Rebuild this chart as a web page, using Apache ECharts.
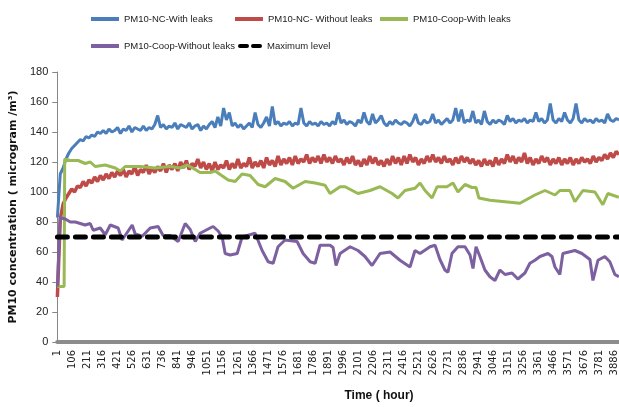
<!DOCTYPE html>
<html>
<head>
<meta charset="utf-8">
<script src="https://cdn.jsdelivr.net/npm/echarts@6/dist/echarts.min.js"></script>
<style>
  html, body { margin: 0; padding: 0; background: #fff; }
  #chart { width: 619px; height: 407px; }
</style>
</head>
<body>
<div id="chart"></div>
<script>
// noms des séries (legend)
var seriesNames = ['PM10-NC-With leaks', 'PM10-NC- Without leaks', 'PM10-Coop-With leaks', 'PM10-Coop-Without leaks', 'Maximum level'];
var colors = ['#4A7EBB', '#BE4B48', '#98B954', '#7D60A0', '#000000'];

// étiquettes de l'axe du temps (heures)
var timeTicks = [1, 106, 211, 316, 421, 526, 631, 736, 841, 946, 1051, 1156, 1261, 1366, 1471, 1576, 1681, 1786, 1891,
  1996, 2101, 2206, 2311, 2416, 2521, 2626, 2731, 2836, 2941, 3046, 3151, 3256, 3361, 3466, 3571, 3676, 3781, 3886];
var lastHour = 3920;
var maxLevel = 70;

// séries bruitées : une valeur toutes les 20 heures à partir de l'heure 1
var firstHour = 1;
var sampleStep = 20;
var ncWithLeaks = [
  83,112,116,122,126,129,131,133,135,134,
  137,136,138,137,140,139,141,139,142,140,
  141,143,139,142,141,144,140,143,142,141,
  144,141,143,142,145,151,143,145,142,144,
  143,146,142,145,144,143,146,142,144,145,
  141,144,142,145,147,143,150,144,156,148,
  153,144,146,143,145,142,144,146,143,153,
  145,143,146,150,144,157,145,147,144,146,
  145,147,144,146,145,156,146,144,147,145,
  146,144,147,145,146,144,147,145,153,146,
  148,145,147,146,144,148,146,153,147,145,
  152,146,148,151,146,144,147,145,148,146,
  145,147,146,144,147,152,146,145,148,146,
  147,152,146,148,145,147,149,146,148,156,
  147,155,146,148,147,154,146,148,145,154,
  147,145,148,146,148,147,145,151,147,149,
  146,148,147,149,146,148,147,153,147,149,
  146,148,159,148,146,149,147,153,148,146,
  149,159,148,146,149,147,148,146,149,147,
  148,146,152,148,147,149,148
];
var ncWithoutLeaks = [
  30,82,92,96,99,102,100,104,103,107,
  104,108,106,110,107,111,108,112,109,113,
  110,114,111,115,110,114,112,117,111,115,
  113,118,112,116,113,117,114,119,113,118,
  115,119,114,120,116,121,115,119,117,122,
  116,120,115,119,114,120,115,118,116,121,
  115,119,116,122,116,119,117,123,116,120,
  117,121,116,123,118,121,117,124,118,122,
  119,123,118,124,119,122,120,125,119,123,
  120,124,119,125,120,123,119,124,120,122,
  118,123,119,124,118,121,117,122,118,124,
  119,123,118,121,117,122,118,124,119,123,
  118,124,119,125,120,123,118,122,119,124,
  120,125,120,123,119,124,120,122,118,123,
  119,124,120,123,119,122,118,121,117,122,
  118,121,117,123,118,122,119,125,120,124,
  119,123,120,126,119,123,118,122,119,124,
  120,123,118,122,119,123,118,122,119,123,
  118,122,119,123,120,122,119,124,120,123,
  121,125,122,126,123,127,125
];

// séries lisses : [heure, valeur]
var coopWithLeaks = [
  [1,37],[48,37],[52,122],[91,121],[146,121],[195,119],[230,120],[265,117],[335,118],[405,116],
  [440,114],[474,117],[579,117],[684,116],[788,117],[858,116],[907,118],[963,115],[997,113],[1067,113],
  [1102,114],[1193,108],[1242,107],[1290,112],[1346,111],[1402,105],[1451,103.5],[1521,109],[1590,107],[1646,102.5],
  [1730,107],[1800,106],[1869,104.5],[1904,99],[1974,103.5],[2009,103.5],[2099,99],[2183,101],[2253,103.5],[2337,99],
  [2378,96],[2427,101],[2497,102.5],[2532,106],[2567,101],[2616,96],[2651,103.5],[2720,103.5],[2762,106],[2797,100],
  [2846,105],[2895,103],[2923,103],[2943,96],[3020,94.5],[3125,93.5],[3229,92.5],[3334,98],[3404,101],[3474,98],
  [3508,101],[3578,101],[3613,93.5],[3669,101],[3753,100],[3808,91.5],[3843,99],[3920,96.5]
];
var coopWithoutLeaks = [
  [1,37],[14,37],[20,83],[56,82],[91,80],[126,80],[195,78],[230,79],[251,74.5],[300,76],
  [335,71.5],[370,78],[425,76],[453,68],[495,74],[523,78],[544,72],[593,70.5],[649,76],[704,77],
  [739,71],[788,71],[844,67],[893,79],[928,75],[963,67],[997,72.5],[1067,76],[1088,77],[1123,74],
  [1151,70],[1172,59],[1207,58],[1256,59],[1290,70],[1381,72.5],[1430,61],[1472,53.5],[1507,52.5],[1541,63.5],
  [1590,68],[1674,67],[1716,59],[1765,53.5],[1800,52.5],[1834,64.5],[1904,64.5],[1925,63],[1946,51],[1974,59],
  [2044,63.5],[2099,61],[2148,57],[2197,51],[2253,59],[2323,60],[2392,54.5],[2462,50],[2497,61],[2532,59],
  [2602,63.5],[2637,64.5],[2671,55],[2706,48],[2727,46.5],[2755,59],[2797,63.5],[2846,63.5],[2881,58],[2902,49],
  [2923,63.5],[2950,57],[2985,48],[3020,43.5],[3055,41],[3090,48],[3125,45],[3174,46],[3215,42],[3264,46],
  [3299,52.5],[3334,54.5],[3369,57],[3425,59],[3453,57],[3474,50],[3508,45],[3529,59],[3613,61],[3662,59],
  [3718,55],[3739,41],[3774,54.5],[3822,57],[3857,53.5],[3892,45],[3920,43.5]
];

function toPairs(values) {
  return values.map(function (v, i) { return [firstHour + i * sampleStep, v]; });
}

var sans = "'Liberation Sans', Arial, sans-serif";

// une légende par entrée pour placer chaque élément comme dans l'original
var legendPos = [[86, 9], [230, 9], [375, 9], [86, 36], [233, 36]];
var solidIcon = 'path://M0,0H28V4H0Z';
var dashIcon = 'path://M2,0H9A2,2 0 0 1 9,4H2A2,2 0 0 1 2,0Z M15,0H22A2,2 0 0 1 22,4H15A2,2 0 0 1 15,0Z';
var legends = seriesNames.map(function (name, i) {
  return {
    data: [name],
    left: legendPos[i][0],
    top: legendPos[i][1],
    icon: i === 4 ? dashIcon : solidIcon,
    itemWidth: i === 4 ? 24 : 28,
    itemHeight: 4,
    itemGap: 4,
    textStyle: { fontFamily: sans, fontSize: 9.5, color: '#222' }
  };
});

function lineSeries(idx, data, width) {
  return {
    name: seriesNames[idx],
    type: 'line',
    data: data,
    symbol: 'none',
    animation: false,
    lineStyle: { color: colors[idx], width: width },
    itemStyle: { color: colors[idx] }
  };
}

var maxSeries = lineSeries(4, [[firstHour, maxLevel], [lastHour, maxLevel]], 5);
maxSeries.lineStyle.type = [10, 8];
maxSeries.lineStyle.cap = 'round';

var option = {
  animation: false,
  backgroundColor: '#fff',
  legend: legends,
  grid: { left: 57, right: 0, top: 72, bottom: 65, containLabel: false },
  xAxis: {
    type: 'value',
    min: 0,
    max: lastHour,
    name: 'Time ( hour)',
    nameLocation: 'middle',
    nameGap: 48,
    nameTextStyle: { fontFamily: sans, fontSize: 12, fontWeight: 'bold', color: '#111', padding: [0, 0, 0, 82] },
    splitLine: { show: false },
    axisLine: { show: true, lineStyle: { color: '#8c8c8c', width: 4 } },
    axisTick: { show: false },
    axisLabel: {
      customValues: timeTicks,
      formatter: function (v) { return String(v); },
      rotate: 90,
      margin: 8,
      fontFamily: 'DejaVu Sans',
      fontSize: 10,
      color: '#222'
    }
  },
  yAxis: {
    type: 'value',
    min: 0,
    max: 180,
    interval: 20,
    name: 'PM10 concentration ( microgram /m³)',
    nameLocation: 'middle',
    nameRotate: 90,
    nameGap: 33,
    nameTextStyle: { fontFamily: 'DejaVu Sans', fontSize: 11, fontWeight: 'bold', color: '#111' },
    splitLine: { show: false },
    axisLine: { show: true, lineStyle: { color: '#868686', width: 1 } },
    axisTick: { show: true, length: 5, lineStyle: { color: '#868686' } },
    axisLabel: { fontFamily: sans, fontSize: 11, color: '#222', margin: 9 }
  },
  series: [
    lineSeries(0, toPairs(ncWithLeaks), 3),
    lineSeries(1, toPairs(ncWithoutLeaks), 3.5),
    lineSeries(2, coopWithLeaks, 3),
    lineSeries(3, coopWithoutLeaks, 3),
    maxSeries
  ]
};

var myChart = echarts.init(document.getElementById('chart'), null, { renderer: 'canvas' });
myChart.setOption(option);
</script>
</body>
</html>
